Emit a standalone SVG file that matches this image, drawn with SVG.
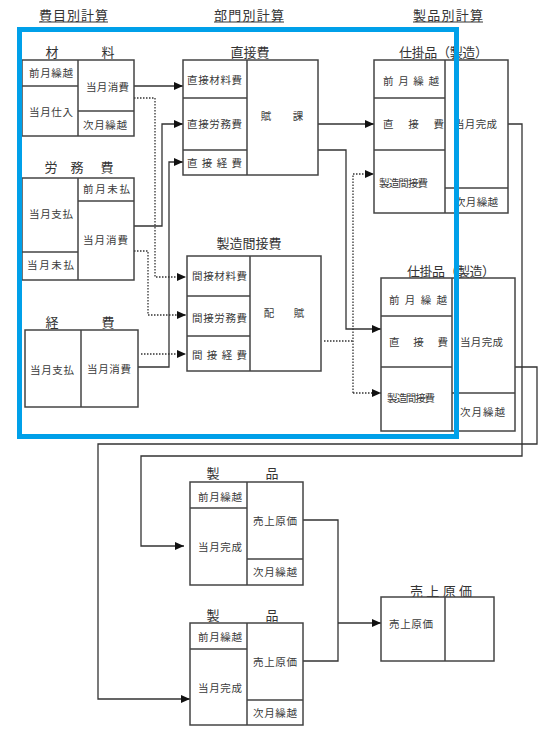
<svg xmlns="http://www.w3.org/2000/svg" width="554" height="737" viewBox="0 0 554 737">
<style>
.t{font-family:"Noto Sans CJK JP","Noto Sans CJK SC",sans-serif;font-size:10.5px;fill:#3a3a3a}
.h{font-family:"Noto Sans CJK JP","Noto Sans CJK SC",sans-serif;font-size:13px;fill:#333}
.b{fill:#fff;stroke:#444;stroke-width:1.5}
.d{fill:none;stroke:#444;stroke-width:1.5}
.c{fill:none;stroke:#333;stroke-width:1.3}
.dot{fill:none;stroke:#333;stroke-width:1.3;stroke-dasharray:1.5 1.5}
.u{stroke:#333;stroke-width:1}
</style>
<defs>
<marker id="ar" markerWidth="9" markerHeight="8" refX="9" refY="4" orient="auto" markerUnits="userSpaceOnUse">
<path d="M0,0 L9,4 L0,8 z" fill="#111"/>
</marker>
</defs>
<rect width="554" height="737" fill="#fff"/>

<g id="headers">
<text class="h" x="39" y="20" textLength="69" lengthAdjust="spacing">費目別計算</text>
<line class="u" x1="39" y1="22" x2="108" y2="22"/>
<text class="h" x="214" y="20" textLength="70" lengthAdjust="spacing">部門別計算</text>
<line class="u" x1="214" y1="22" x2="284" y2="22"/>
<text class="h" x="413" y="20" textLength="70" lengthAdjust="spacing">製品別計算</text>
<line class="u" x1="413" y1="22" x2="483" y2="22"/>
</g>

<g id="connectors">
<path class="c" d="M134,86 H183" marker-end="url(#ar)"/>
<path class="dot" d="M134,98 H155 V277 H186" marker-end="url(#ar)"/>
<path class="c" d="M134,226 H162 V124 H183" marker-end="url(#ar)"/>
<path class="dot" d="M134,251 H148 V315 H186" marker-end="url(#ar)"/>
<path class="c" d="M138,367 H169 V162 H183" marker-end="url(#ar)"/>
<path class="dot" d="M141,354 H186" marker-end="url(#ar)"/>
<path class="c" d="M318,124 H374" marker-end="url(#ar)"/>
<path class="c" d="M318,150 H346 V329 H381" marker-end="url(#ar)"/>
<path class="dot" d="M324,341 H353"/>
<path class="dot" d="M353,393 V174 H374" marker-end="url(#ar)"/>
<path class="dot" d="M353,393 H381" marker-end="url(#ar)"/>
<path class="c" d="M508,124 H522 V456 H141 V546 H184" marker-end="url(#ar)"/>
<path class="c" d="M515,367 H537 V444 H98 V699 H190" marker-end="url(#ar)"/>
<path class="c" d="M303,520 H338 V661 H303"/>
<path class="c" d="M338,623 H381" marker-end="url(#ar)"/>
</g>

<g id="zairyo">
<text class="h" x="52" y="57" text-anchor="middle">材</text>
<text class="h" x="108" y="57" text-anchor="middle">料</text>
<rect class="b" x="22" y="60" width="112" height="76"/>
<path class="d" d="M78,60 V136 M22,86 H78 M78,111 H134"/>
<text class="t" x="29" y="77" textLength="44" lengthAdjust="spacing">前月繰越</text>
<text class="t" x="29" y="116" textLength="44" lengthAdjust="spacing">当月仕入</text>
<text class="t" x="86" y="91" textLength="43" lengthAdjust="spacing">当月消費</text>
<text class="t" x="83" y="129" textLength="44" lengthAdjust="spacing">次月繰越</text>
</g>

<g id="roumuhi">
<text class="h" x="51" y="172" text-anchor="middle">労</text>
<text class="h" x="77" y="172" text-anchor="middle">務</text>
<text class="h" x="107" y="172" text-anchor="middle">費</text>
<rect class="b" x="22" y="178" width="112" height="102"/>
<path class="d" d="M78,178 V280 M22,252 H78 M78,201 H134"/>
<text class="t" x="83" y="193" textLength="47" lengthAdjust="spacing">前月未払</text>
<text class="t" x="29" y="218" textLength="44" lengthAdjust="spacing">当月支払</text>
<text class="t" x="83" y="244" textLength="45" lengthAdjust="spacing">当月消費</text>
<text class="t" x="27" y="269" textLength="47" lengthAdjust="spacing">当月未払</text>
</g>

<g id="keihi">
<text class="h" x="52" y="327" text-anchor="middle">経</text>
<text class="h" x="108" y="327" text-anchor="middle">費</text>
<rect class="b" x="25" y="330" width="113" height="77"/>
<path class="d" d="M81,330 V407"/>
<text class="t" x="30" y="374" textLength="44" lengthAdjust="spacing">当月支払</text>
<text class="t" x="87" y="373" textLength="44" lengthAdjust="spacing">当月消費</text>
</g>

<g id="chokusetsuhi">
<text class="h" x="250" y="57" text-anchor="middle">直接費</text>
<rect class="b" x="183" y="60" width="135" height="115"/>
<path class="d" d="M247,60 V175 M183,98 H247 M183,150 H247"/>
<text class="t" x="187" y="84" textLength="55" lengthAdjust="spacing">直接材料費</text>
<text class="t" x="187" y="128" textLength="55" lengthAdjust="spacing">直接労務費</text>
<text class="t" x="187" y="167" textLength="55" lengthAdjust="spacing">直接経費</text>
<text class="t" x="266" y="120" text-anchor="middle">賦</text>
<text class="t" x="298" y="120" text-anchor="middle">課</text>
</g>

<g id="seizoukansetsuhi">
<text class="h" x="249" y="248" text-anchor="middle">製造間接費</text>
<rect class="b" x="187" y="256" width="134" height="115"/>
<path class="d" d="M250,256 V371 M187,296 H250 M187,336 H250"/>
<text class="t" x="192" y="280" textLength="55" lengthAdjust="spacing">間接材料費</text>
<text class="t" x="192" y="322" textLength="55" lengthAdjust="spacing">間接労務費</text>
<text class="t" x="192" y="359" textLength="55" lengthAdjust="spacing">間接経費</text>
<text class="t" x="269" y="317" text-anchor="middle">配</text>
<text class="t" x="299" y="317" text-anchor="middle">賦</text>
</g>

<g id="shikakehin1">
<text class="h" x="399" y="57" textLength="89" lengthAdjust="spacing">仕掛品（製造）</text>
<rect class="b" x="374" y="60" width="134" height="153"/>
<path class="d" d="M445,60 V213 M374,98 H445 M374,150 H445 M445,188 H508"/>
<text class="t" x="383" y="85" textLength="56" lengthAdjust="spacing">前月繰越</text>
<text class="t" x="383" y="128" textLength="61" lengthAdjust="spacing">直接費</text>
<text class="t" x="379" y="187" textLength="49" lengthAdjust="spacing">製造間接費</text>
<text class="t" x="454" y="128" textLength="43" lengthAdjust="spacing">当月完成</text>
<text class="t" x="455" y="206" textLength="43" lengthAdjust="spacing">次月繰越</text>
</g>

<g id="shikakehin2">
<text class="h" x="407" y="276" textLength="88" lengthAdjust="spacing">仕掛品（製造）</text>
<rect class="b" x="381" y="278" width="134" height="153"/>
<path class="d" d="M452,278 V431 M381,316 H452 M381,367 H452 M452,393 H515"/>
<text class="t" x="389" y="304" textLength="58" lengthAdjust="spacing">前月繰越</text>
<text class="t" x="389" y="346" textLength="59" lengthAdjust="spacing">直接費</text>
<text class="t" x="387" y="402" textLength="48" lengthAdjust="spacing">製造間接費</text>
<text class="t" x="460" y="346" textLength="43" lengthAdjust="spacing">当月完成</text>
<text class="t" x="460" y="416" textLength="45" lengthAdjust="spacing">次月繰越</text>
</g>

<g id="seihin1">
<text class="h" x="213" y="478" text-anchor="middle">製</text>
<text class="h" x="272" y="478" text-anchor="middle">品</text>
<rect class="b" x="190" y="482" width="113" height="103"/>
<path class="d" d="M247,482 V585 M190,508 H247 M247,559 H303"/>
<text class="t" x="198" y="501" textLength="44" lengthAdjust="spacing">前月繰越</text>
<text class="t" x="198" y="551" textLength="44" lengthAdjust="spacing">当月完成</text>
<text class="t" x="253" y="525" textLength="44" lengthAdjust="spacing">売上原価</text>
<text class="t" x="253" y="576" textLength="44" lengthAdjust="spacing">次月繰越</text>
</g>

<g id="seihin2">
<text class="h" x="213" y="620" text-anchor="middle">製</text>
<text class="h" x="272" y="620" text-anchor="middle">品</text>
<rect class="b" x="190" y="623" width="113" height="102"/>
<path class="d" d="M247,623 V725 M190,649 H247 M247,700 H303"/>
<text class="t" x="198" y="641" textLength="44" lengthAdjust="spacing">前月繰越</text>
<text class="t" x="198" y="692" textLength="44" lengthAdjust="spacing">当月完成</text>
<text class="t" x="253" y="666" textLength="44" lengthAdjust="spacing">売上原価</text>
<text class="t" x="253" y="717" textLength="44" lengthAdjust="spacing">次月繰越</text>
</g>

<g id="uriagegenka">
<text class="h" x="410" y="596" textLength="62" lengthAdjust="spacing">売上原価</text>
<rect class="b" x="381" y="597" width="113" height="64"/>
<path class="d" d="M445,597 V661"/>
<text class="t" x="389" y="628" textLength="44" lengthAdjust="spacing">売上原価</text>
</g>

<rect id="frame" x="19.5" y="29.5" width="437" height="407" fill="none" stroke="#00A0E9" stroke-width="5"/>
</svg>
